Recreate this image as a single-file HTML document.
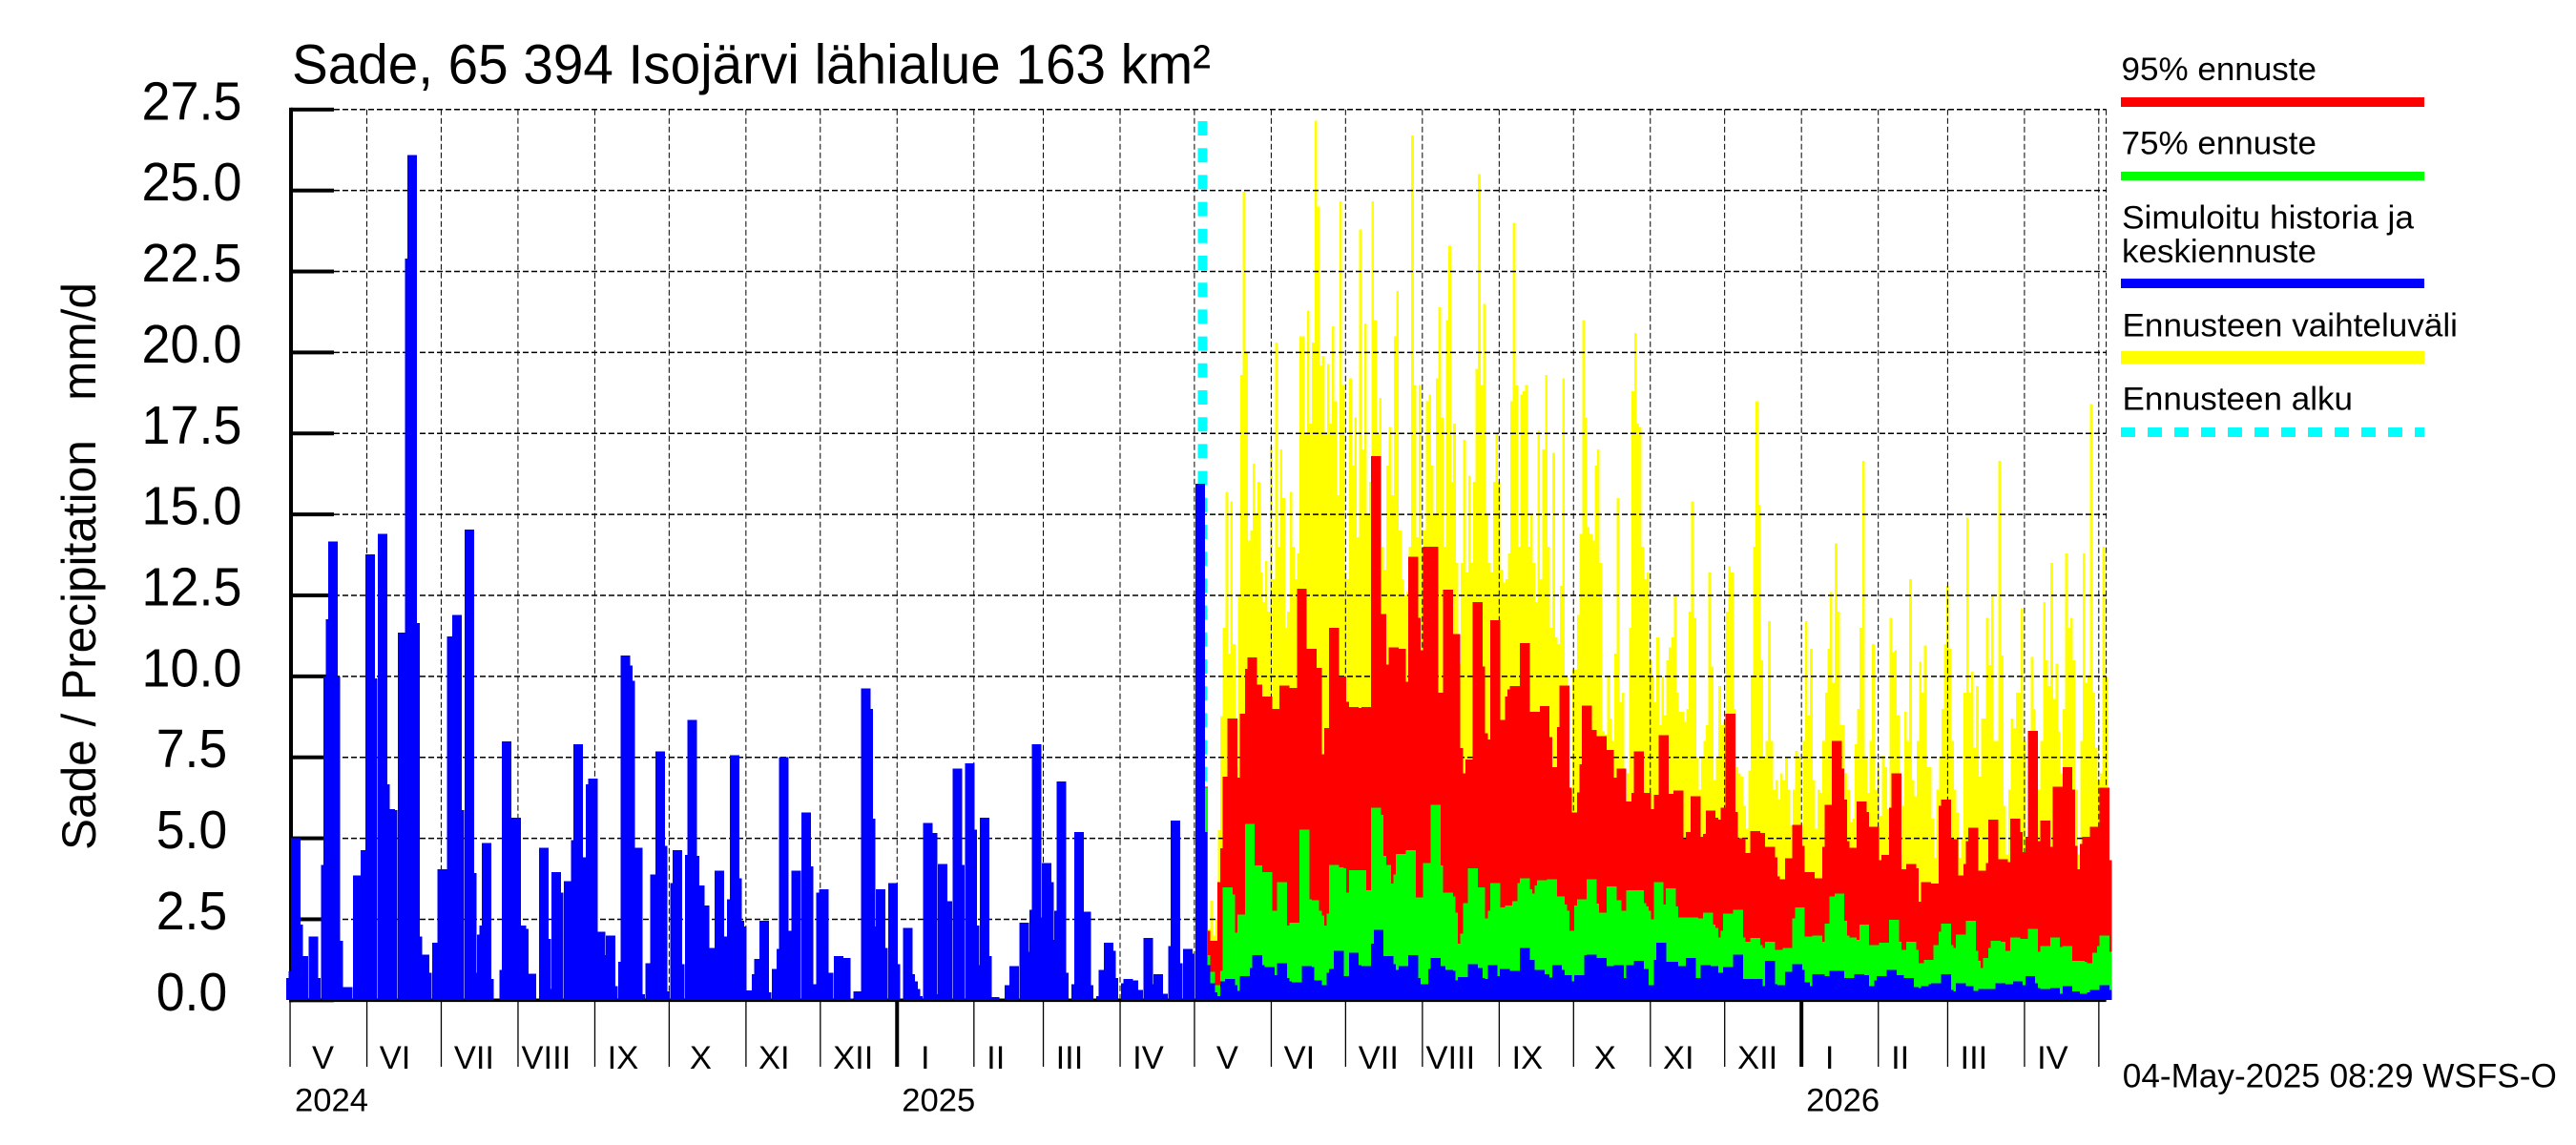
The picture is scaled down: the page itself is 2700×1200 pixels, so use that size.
<!DOCTYPE html>
<html lang="fi">
<head>
<meta charset="utf-8">
<title>Sade, 65 394 Isojärvi lähialue 163 km²</title>
<style>
html,body{margin:0;padding:0;background:#fff;}
svg{display:block;}
text{font-family:"Liberation Sans",sans-serif;fill:#000;white-space:pre;}
</style>
</head>
<body>
<svg id="chart" xmlns="http://www.w3.org/2000/svg" width="2700" height="1200" viewBox="0 0 2700 1200">
<rect x="0" y="0" width="2700" height="1200" fill="#fff"/>
<text x="306" y="87.3" font-size="58" textLength="963" lengthAdjust="spacingAndGlyphs">Sade, 65 394 Isojärvi lähialue 163 km²</text>
<text transform="translate(100,891) rotate(-90)" font-size="50" textLength="595" lengthAdjust="spacingAndGlyphs" xml:space="preserve">Sade / Precipitation   mm/d</text>
<g id="axes"></g>
<g id="start-line"></g>
<g id="range"></g>
<g id="grid"></g>
<g id="p95"></g>
<g id="p75"></g>
<g id="mean"></g>
<g id="legend">
<text x="2223.5" y="84" font-size="34.5" textLength="204.5" lengthAdjust="spacingAndGlyphs">95% ennuste</text>
<rect x="2223" y="102" width="318" height="10" fill="#ff0000"/>
<text x="2223.5" y="161.7" font-size="34.5" textLength="204.5" lengthAdjust="spacingAndGlyphs">75% ennuste</text>
<rect x="2223" y="180" width="318" height="9" fill="#00ff00"/>
<text x="2224" y="239.3" font-size="34.5" textLength="306" lengthAdjust="spacingAndGlyphs">Simuloitu historia ja</text>
<text x="2224" y="275" font-size="34.5" textLength="204" lengthAdjust="spacingAndGlyphs">keskiennuste</text>
<rect x="2223" y="292" width="318" height="10" fill="#0000ff"/>
<text x="2224.5" y="352.7" font-size="34.5" textLength="351.5" lengthAdjust="spacingAndGlyphs">Ennusteen vaihteluväli</text>
<rect x="2223" y="368" width="318" height="13.7" fill="#ffff00"/>
<text x="2224.5" y="429.3" font-size="34.5" textLength="241.5" lengthAdjust="spacingAndGlyphs">Ennusteen alku</text>
<line x1="2223" y1="453" x2="2541" y2="453" stroke="#00ffff" stroke-width="10" stroke-dasharray="15 13"/>
</g>
<text x="2224.8" y="1139.6" font-size="35" textLength="455" lengthAdjust="spacingAndGlyphs">04-May-2025 08:29 WSFS-O</text>
</svg>
<script>
var yTicks = [0, 2.5, 5, 7.5, 10, 12.5, 15, 17.5, 20, 22.5, 25, 27.5];
var monthLabels = ["V","VI","VII","VIII","IX","X","XI","XII","I","II","III","IV","V","VI","VII","VIII","IX","X","XI","XII","I","II","III","IV"];
var monthLengths = [31,30,31,31,30,31,30,31,31,28,31,30,31,30,31,31,30,31,30,31,31,28,31,30];
var yearLabels = ["2024","2025","2026"];
var yearStartDays = [0,245,610];
var lastDay = 733;
var forecastStartDay = 368.3;

var historyDays = [0,1,2,3,5,9,10,14,15,16,17,18,19,23,27,30,32,33,37,38,40,41,45,48,49,50,51,54,55,59,61,62,65,67,68,72,73,74,77,78,79,80,86,87,91,93,94,97,102,103,104,107,108,112,115,116,117,121,122,125,126,129,130,134,135,136,137,140,141,145,147,149,150,151,155,156,157,161,162,163,165,167,168,169,173,174,178,179,180,181,182,183,184,188,189,191,192,196,198,199,200,204,208,209,210,214,215,217,221,224,225,229,232,233,234,235,238,239,243,244,249,250,251,252,253,257,259,260,263,265,269,270,274,275,276,277,280,281,284,290,292,296,297,300,301,302,305,306,307,310,311,312,317,318,321,322,327,328,330,331,332,337,338,340,342,346,347,350,352,356,357,358,362,363,367,368];
var historyValues = [0.68,0.9,5.0,2.33,1.37,1.97,0.68,4.18,10.0,11.76,14.17,10.0,1.83,0.41,3.86,4.63,13.77,9.93,14.4,6.66,5.9,5.87,11.35,22.9,26.1,11.64,1.97,1.41,0.85,1.77,4.04,3.45,11.23,11.9,5.87,14.53,3.92,0.85,2.03,2.3,4.86,0.65,0.94,7.99,5.63,2.3,2.2,0.82,4.71,1.89,0.35,3.95,3.33,3.68,4.95,7.9,4.42,6.66,6.84,2.12,1.39,2.0,0.44,1.18,10.64,10.34,9.87,4.71,0.18,1.15,3.89,7.69,4.77,0.27,3.62,4.63,1.12,4.48,8.66,4.45,3.54,2.92,1.59,1.62,4.0,1.97,3.12,7.57,3.77,2.45,2.27,0.18,0.3,0.8,1.27,2.45,0.24,0.97,1.59,7.5,2.15,4.0,5.8,4.13,0.5,3.33,3.42,0.85,1.36,1.3,0.06,0.27,9.63,8.99,5.6,2.27,3.42,1.62,3.62,1.12,2.24,0.8,0.59,0.35,0.12,5.48,5.16,0.18,4.21,3.06,7.16,4.18,7.31,5.27,2.3,1.09,5.63,1.36,0.09,0.47,1.06,2.39,1.5,2.8,7.9,2.56,4.24,3.65,1.86,2.77,6.75,0.85,0.5,5.19,2.74,0.47,0.12,0.94,1.77,1.53,0.68,0.53,0.65,0.62,0.32,1.92,0.5,0.8,0.2,1.68,5.54,1.15,1.59,1.44,15.95,5.19];

var p95Days = [368,369,371,372,376,377,378,380,381,384,385,387,388,390,391,394,397,398,401,404,408,412,414,415,419,421,424,425,426,429,430,433,434,438,440,441,445,448,449,453,454,455,459,461,463,467,470,471,472,476,479,480,481,482,486,488,492,493,494,498,499,502,506,507,509,513,514,515,517,521,522,523,525,529,532,533,537,538,539,543,544,547,548,552,554,556,560,561,565,567,568,572,573,574,575,579,581,582,585,587,591,593,594,597,598,599,601,605,608,609,613,614,616,620,621,624,625,626,627,630,634,635,639,640,644,647,648,650,654,655,656,660,663,667,668,671,673,677,678,679,680,683,686,687,691,695,696,697,698,702,703,704,708,709,713,717,718,719,720,724,725,728,732,733];
var p95Values = [6.6,2.15,1.62,1.83,3.65,4.69,6.9,8.7,5.6,6.87,8.84,10.23,10.58,9.75,8.81,9.37,8.99,8.46,9.72,9.64,12.7,10.85,10.26,7.6,8.4,11.5,10.0,9.22,7.75,9.05,7.4,9.02,9.05,16.8,11.93,10.37,10.9,10.85,9.84,13.7,11.8,10.8,14.0,14.0,9.5,12.67,11.3,7.78,7.0,7.43,12.3,10.3,8.25,8.05,11.73,8.66,9.37,9.6,9.7,11.02,8.34,8.9,9.08,8.13,7.19,8.43,9.72,6.57,5.8,6.42,7.28,9.1,8.34,8.16,7.72,6.87,7.16,6.1,6.13,6.4,7.69,6.4,5.9,6.34,8.19,6.37,6.48,4.98,5.19,6.3,5.04,5.13,5.86,5.63,5.57,5.95,8.84,5.81,5.0,4.54,5.22,5.16,4.3,4.74,4.42,3.83,3.74,4.39,5.42,4.77,3.95,3.24,3.77,4.74,6.04,8.0,7.16,6.19,4.92,4.71,6.13,5.81,5.36,4.33,4.48,5.95,7.0,4.04,4.21,4.07,3.04,3.65,3.6,6.01,6.19,4.98,3.86,4.21,4.92,5.33,3.92,4.0,4.24,5.57,4.36,4.27,5.6,5.19,4.57,5.04,8.31,4.92,5.54,4.74,6.6,7.19,6.51,4.77,4.04,4.83,5.04,5.36,6.57,4.33];

var p75Days = [368,369,371,372,373,376,377,378,379,380,381,384,387,390,391,394,396,400,401,405,406,409,410,413,414,415,416,420,421,423,424,425,429,432,433,434,438,439,440,442,443,447,448,452,455,459,462,463,467,468,469,470,474,475,477,480,481,485,486,489,492,495,497,498,499,500,504,505,509,512,513,514,516,520,521,525,526,530,533,535,537,541,544,545,546,547,548,552,553,557,558,561,565,566,568,572,573,574,575,579,580,584,585,587,591,592,593,597,600,601,604,608,609,612,616,617,621,623,625,626,627,630,631,635,639,640,643,647,648,650,654,655,656,658,661,665,667,668,669,670,674,678,679,680,681,685,687,688,690,691,692,696,700,703,704,708,712,713,717,720,722,723,725,729,731,732,733];
var p75Values = [6.57,1.39,0.88,0.47,0.29,0.47,0.91,3.48,3.27,2.09,1.33,2.65,5.45,4.16,2.86,3.95,2.77,3.65,2.3,2.39,2.2,5.27,3.12,3.09,2.77,2.62,2.3,2.68,4.18,4.1,4.07,3.33,4.01,4.01,2.98,3.39,5.95,5.72,4.45,4.18,3.6,3.89,4.51,4.63,3.18,4.24,6.04,4.16,3.33,3.21,2.71,1.74,2.06,3.0,4.07,3.48,2.53,2.77,3.62,2.86,2.92,3.06,3.62,3.77,3.42,3.3,3.54,3.71,3.74,3.21,2.95,2.77,2.15,2.92,3.12,3.74,2.98,2.71,3.51,3.09,2.77,3.39,3.39,3.0,2.89,2.77,2.5,3.65,2.95,3.45,2.89,2.56,2.56,2.56,2.53,2.71,2.33,2.24,1.94,2.15,2.68,2.8,1.94,1.8,1.92,1.71,1.62,1.8,1.56,1.53,1.62,2.53,2.86,1.97,2.0,1.8,2.36,3.21,3.3,2.45,2.0,1.94,1.86,2.33,1.71,1.65,1.77,2.48,1.8,1.56,1.8,1.56,1.09,1.15,1.24,1.71,2.12,2.36,1.71,1.62,2.03,2.45,1.53,1.21,1.0,1.3,1.62,1.83,1.8,1.5,1.53,1.94,1.89,2.21,1.5,1.68,1.94,1.65,1.68,1.21,1.21,1.18,1.15,1.47,1.68,2.0,1.5];

var meanDays = [369,371,372,373,377,379,380,381,385,389,390,391,395,396,400,401,402,406,410,411,414,417,420,421,423,426,429,430,431,433,434,438,439,443,444,448,449,453,454,457,461,462,464,467,468,469,471,473,477,479,480,481,485,486,490,491,494,498,500,504,506,507,511,512,515,516,519,520,524,525,529,530,532,536,538,541,544,546,548,552,553,557,558,559,561,565,567,571,574,576,577,580,584,588,592,593,597,598,600,601,605,608,609,611,612,616,617,620,623,625,629,633,635,639,641,642,646,649,653,655,656,660,661,663,664,668,669,670,674,677,679,683,686,690,692,694,697,698,702,703,704,708,712,713,717,720,723,727,728,732,733];
var meanValues = [1.09,0.53,0.24,0.12,0.59,0.65,0.47,0.29,0.74,1.0,1.39,1.09,1.03,0.77,1.15,0.68,0.59,0.56,1.06,1.03,0.62,0.47,0.85,0.97,1.53,0.74,1.47,1.09,1.03,0.88,1.06,1.74,2.18,1.36,1.12,0.94,1.06,1.39,0.68,0.5,0.97,1.3,1.06,0.94,0.91,0.62,0.5,0.71,1.12,1.0,0.68,0.65,1.09,0.74,0.97,0.74,0.91,1.62,1.24,0.94,0.8,0.7,1.09,0.94,0.77,0.59,0.59,0.77,1.39,1.41,1.3,1.0,1.06,1.09,0.68,1.09,1.21,0.97,0.47,1.24,1.77,1.18,1.18,0.91,1.06,1.3,0.68,1.09,1.06,0.82,0.85,1.03,1.41,0.65,0.65,0.44,1.21,0.5,0.47,0.47,0.88,1.12,0.94,0.56,0.44,0.8,0.8,0.74,0.91,0.91,0.68,0.8,0.77,0.44,0.62,0.74,0.94,0.77,0.68,0.41,0.38,0.44,0.44,0.5,0.53,0.8,0.32,0.27,0.53,0.44,0.29,0.35,0.35,0.53,0.32,0.5,0.59,0.47,0.74,0.53,0.38,0.35,0.38,0.2,0.44,0.27,0.2,0.24,0.32,0.47,0.32];

var rangeFirstDay = 365;
var rangeValues = [
0,0,0,6.6,6.6,2,2.2,3.08,2,2.5,
5.25,8.78,11.5,15.7,10.7,15.4,11,7.2,12.5,19.3,
24.96,20,14.2,14.5,16.56,15,16,13.2,12.3,13.56,
12,17.1,13,20.3,14,17,15.5,11.5,12,15.7,
14,13,13.8,20.5,20.5,17.5,21.3,17.8,20.3,27.15,
24.5,19.6,19.9,17.5,19.65,17.8,20.8,18.5,15.6,24.66,
19,13.2,13,19.2,16.5,18,14.3,23.8,17,20.9,
15,16,24.66,21,17.5,18.6,14,13.3,16.5,17.7,
15.6,20.5,21.9,14.5,13,12.5,12.6,14,26.7,19,
14.3,19,14,14.5,18.5,18.7,16.5,15,19.2,21.4,
18,14,21,23.3,16,17.8,13.5,10.4,13.5,17.3,
13.2,16.2,13.5,16,19.5,25.5,19,21.5,15,13.5,
13.2,16,17.5,16,13.3,12.9,13,13.8,18.5,24,
19,14,18.7,18.8,19,14,15,13.5,12.3,17.6,
13,17,19.3,14,11.5,16.9,11.2,11,12.8,19.2,
10,9.5,6.5,10.2,10.2,11.9,14.4,21,18,14.6,
14.4,14.2,16.5,17,13.5,8.3,8.2,10,8.7,8,
10.7,15.5,9.2,9.5,6,7,11.5,18.8,20.6,17.8,
17.7,14,13,13.2,10.5,10,9.2,11.2,8.5,10,
8.8,10.5,10.9,11.2,12.5,9.5,8.9,8.9,8.6,9,
12,15.4,11.8,7.5,6.5,7.5,8,8.5,13.2,10.3,
6.8,7.5,9.7,8.5,8.6,12,13.4,13.2,9,7.2,
7,6.9,6,5.3,7.1,10,14,18.5,15.3,10.5,
7.5,8,11.7,8,6.5,6.8,6.2,7,6.8,7.5,
6.5,5.4,6.5,7.7,7.5,5,8,11.7,8.8,10.85,
6.8,5.3,6.5,6.4,8,9.5,10.85,12.6,9.8,14.1,
12,8.5,8.5,7,6.5,5.5,5.6,7.9,9,11.5,
16.65,7.5,6.4,8,11,6.5,7.3,5.7,7.55,7.2,
5.9,11.8,10.75,10.8,8.8,4.5,6,8.9,8,13,
6.8,6.3,8,10.45,9.5,10.95,7.2,7.2,5.6,4.4,
6.5,7.5,9,11,12.8,10.85,8,6.5,5.8,4.4,
5,9.5,14.9,9.5,10.15,7.8,9.7,6.9,8.7,8.7,
11.8,10.35,12.5,8,8,16.65,10.65,6,4.5,6.5,
8.7,8.4,9.5,9.5,12.1,8,5,7,10.6,9,
6,6.5,8,12.3,10.5,9.7,13.5,9.3,10.4,8.3,
7,9,13.8,11.5,11.8,10.5,6.5,4.5,8,13.8,
9.8,10,18.4,9.5,7.8,6.8,7,14,10
];

var NS = "http://www.w3.org/2000/svg";
var plotTop = 114.8;
var plotBottom = 1048.3;
var axisMax = 27.5;
var plotLeft = 304;
var pxPerDay = 2.597;
var barWidth = 10.4;
var rangeWidth = 2.7;

function yScale(v) {
  return plotBottom - (v / axisMax) * (plotBottom - plotTop);
}
function xScale(day) {
  return plotLeft + pxPerDay * day;
}
function barCenter(day) {
  return xScale(day + 0.35);
}
function monthLabelOffset(numeral) {
  if (numeral === "II") { return 23; }
  if (numeral === "III") { return 27.5; }
  if (numeral === "V" || numeral === "VII" || numeral === "XII") { return 34.5; }
  if (numeral === "X") { return 33; }
  return 29.5;
}
function add(parentId, tag, props) {
  var el = document.createElementNS(NS, tag);
  for (var k in props) { el.setAttribute(k, props[k]); }
  document.getElementById(parentId).appendChild(el);
  return el;
}
function bar(parentId, cx, width, value, color) {
  var top = yScale(value);
  return add(parentId, "rect", {
    x: (cx - width / 2).toFixed(2),
    y: top.toFixed(2),
    width: width,
    height: Math.max(0, 1048 - top).toFixed(2),
    fill: color,
    "shape-rendering": "crispEdges"
  });
}

var monthStarts = [];
var cumulative = 0;
for (var m = 0; m < monthLengths.length; m++) {
  monthStarts.push(cumulative);
  cumulative += monthLengths[m];
}
monthStarts.push(cumulative);

/* y axis and ticks */
var yAxisLine = add("axes", "rect", {x: 303, y: plotTop - 2, width: 4, height: plotBottom - plotTop + 4, fill: "#000"});


var xAxisLine = add("axes", "rect", {x: 303, y: plotBottom - 1.8, width: xScale(lastDay) - 303, height: 3.6, fill: "#000"});



yTicks.forEach(function (t) {
  var y = yScale(t);
  var tick = add("axes", "rect", {x: 305, y: (y - 2).toFixed(2), width: 45, height: 4, fill: "#000"});
  
  
  var label = add("axes", "text", {
    x: 201,
    y: (y + 10.5).toFixed(2),
    "font-size": 57,
    "text-anchor": "middle",
    textLength: t >= 10 ? 105 : 74.6,
    lengthAdjust: "spacingAndGlyphs"
  });
  label.textContent = t.toFixed(1);
  
  
  var gridH = add("grid", "line", {
    x1: 350, x2: xScale(lastDay), y1: y.toFixed(2), y2: y.toFixed(2),
    stroke: "#000", "stroke-width": 1.5, "stroke-dasharray": "6 3"
  });
  
  
});

/* month ticks, grid, labels */
monthStarts.forEach(function (day, i) {
  var x = xScale(day);
  var isYear = yearStartDays.indexOf(day) > 0;
  var tick = add("axes", "rect", {
    x: (x - (isYear ? 2 : 0.6)).toFixed(2), y: 1050,
    width: isYear ? 4 : 1.3, height: 68, fill: "#000"
  });
  
  
  if (i > 0) {
    var gridV = add("grid", "line", {
      x1: x.toFixed(2), x2: x.toFixed(2), y1: plotTop, y2: plotBottom,
      stroke: "#000", "stroke-width": 1, "stroke-dasharray": "6 3"
    });
    
    
  }
  if (i < monthLabels.length) {
    var label = add("axes", "text", {
      x: (x + monthLabelOffset(monthLabels[i])).toFixed(2), y: 1120, "font-size": 34.5, "text-anchor": "middle"
    });
    label.textContent = monthLabels[i];
    
    
  }
});
var gridEnd = add("grid", "line", {
  x1: xScale(lastDay), x2: xScale(lastDay), y1: plotTop, y2: plotBottom,
  stroke: "#000", "stroke-width": 1, "stroke-dasharray": "6 3"
});



yearLabels.forEach(function (year, i) {
  var label = add("axes", "text", {
    x: (xScale(yearStartDays[i]) + 5).toFixed(2), y: 1164.5, "font-size": 34.5,
    textLength: 77, lengthAdjust: "spacingAndGlyphs"
  });
  label.textContent = year;
  
  
});

/* forecast start line */
var startLine = add("start-line", "line", {
  x1: xScale(forecastStartDay).toFixed(2), x2: xScale(forecastStartDay).toFixed(2),
  y1: 127, y2: plotBottom, stroke: "#00ffff", "stroke-width": 10, "stroke-dasharray": "15 13.2"
});



/* forecast range columns */
rangeValues.forEach(function (v, i) {
  if (v <= 0) { return; }
  var el = bar("range", xScale(rangeFirstDay + i), rangeWidth, v, "#ffff00");
  
  
});

/* 95 % bars */
p95Days.forEach(function (d, i) {
  var el = bar("p95", barCenter(d), barWidth, p95Values[i], "#ff0000");
  
  
});

/* 75 % bars */
p75Days.forEach(function (d, i) {
  var el = bar("p75", barCenter(d), barWidth, p75Values[i], "#00ff00");
  
  
});

/* simulated history and mean forecast */
historyDays.forEach(function (d, i) {
  var el = bar("mean", barCenter(d), 10, historyValues[i], "#0000ff");
  
  
});
meanDays.forEach(function (d, i) {
  var el = bar("mean", barCenter(d), barWidth, meanValues[i], "#0000ff");
  
  
});
</script>
</body>
</html>
